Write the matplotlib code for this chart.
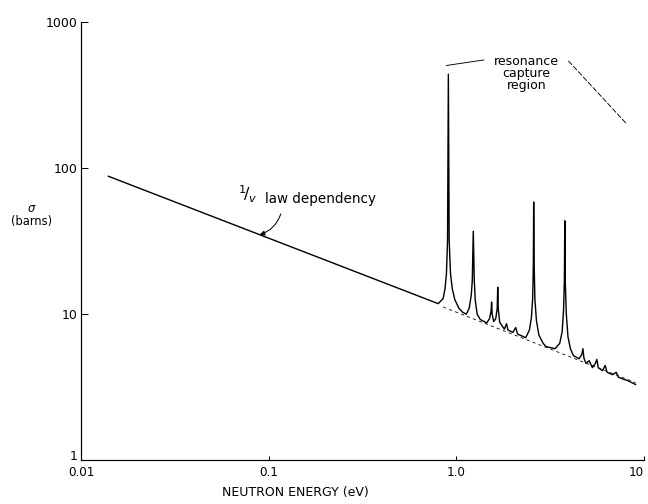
import matplotlib
matplotlib.use("Agg")
import matplotlib.pyplot as plt

# cross section curve (energy in eV, sigma in barns)
energy = [0.014, 0.80, 0.85, 0.87, 0.885, 0.897, 0.906, 0.915, 0.93, 0.95, 0.98, 1.03, 1.08,
          1.13, 1.17, 1.20, 1.215, 1.23, 1.245, 1.26, 1.29, 1.34,
          1.45, 1.5, 1.53, 1.54, 1.55, 1.58, 1.62, 1.65, 1.66, 1.67, 1.70,
          1.80, 1.85, 1.88, 2.0, 2.07, 2.12,
          2.34, 2.45, 2.51, 2.55, 2.57, 2.58, 2.595, 2.62, 2.67, 2.75, 2.9, 3.0,
          3.35, 3.55, 3.66, 3.72, 3.76, 3.78, 3.80, 3.85, 3.93, 4.05, 4.2,
          4.5, 4.66, 4.72, 4.78, 4.9, 5.1, 5.3, 5.5, 5.6, 5.7, 6.0, 6.2, 6.35,
          6.8, 7.1, 7.3, 7.7, 8.2, 9.0]
sigma = [88, 11.8, 12.8, 15, 19, 32, 440, 32, 19, 15, 12.6, 11.0, 10.3,
         10.0, 11.0, 13.5, 17, 37, 17, 12.5, 10.0, 9.2,
         8.7, 9.3, 10.5, 12.1, 10, 8.9, 9.3, 11, 15.3, 11, 8.8,
         7.9, 8.6, 7.8, 7.5, 8.1, 7.3,
         6.9, 7.8, 9.5, 13, 22, 58.6, 22, 12.5, 9.0, 7.2, 6.3, 6.0,
         5.8, 6.3, 7.6, 10.5, 17, 43.6, 17, 10, 7.0, 5.8, 5.2,
         4.95, 5.3, 5.8, 5.0, 4.6, 4.8, 4.3, 4.6, 4.9, 4.3, 4.1, 4.45, 4.0,
         3.85, 4.0, 3.7, 3.6, 3.5, 3.3]

# 1/v baseline continued under the resonances
base_energy = [0.85, 9.0]
base_sigma = [11.2, 3.4]

xticks = [0.01, 0.1, 1.0, 10]
xticklabels = ["0.01", "0.1", "1.0", "10"]
yticks = [1, 10, 100, 1000]
yticklabels = ["1", "10", "100", "1000"]

fig = plt.figure(figsize=(9, 7), dpi=72)
ax = fig.add_axes([0.125, 0.087, 0.869, 0.869])

ax.plot(base_energy, base_sigma, color="black", lw=0.8, ls=(0, (4, 4)))
ax.plot(energy, sigma, color="black", lw=1.4)

ax.set_xscale("log")
ax.set_yscale("log")
ax.set_xlim(0.01, 10)
ax.set_ylim(1, 1000)

ax.spines["top"].set_visible(False)
ax.spines["right"].set_visible(False)
ax.spines["left"].set_linewidth(1.2)
ax.spines["bottom"].set_linewidth(1.2)

ax.set_xticks(xticks)
ax.set_xticklabels(xticklabels)
ax.set_yticks(yticks)
ax.set_yticklabels(yticklabels)
ax.minorticks_off()
ax.tick_params(direction="in", length=7, width=1, labelsize=12)
ax.tick_params(axis="y", labelsize=12.5)
ax.tick_params(axis="x", length=4, pad=6)
ax.get_xticklabels()[-1].set_horizontalalignment("right")
ax.get_yticklabels()[0].set_verticalalignment("baseline")

ax.set_xlabel("NEUTRON ENERGY (eV)", fontsize=12.5)
ax.xaxis.set_label_coords(0.38, -0.06)
ax.text(-0.088, 0.56, "$\\sigma$\n(barns)", transform=ax.transAxes,
        ha="center", va="center", fontsize=11.5, linespacing=1.0)

# annotations
ax.text(0.0774, 66.7, "$^1\\!/_v$", fontsize=16, ha="center", va="center")
ax.text(0.095, 61.5, "law dependency", fontsize=13.5, ha="left", va="center")
ax.annotate("", xy=(0.0895, 35.0), xytext=(0.116, 48.6),
            arrowprops=dict(arrowstyle="-|>", color="black", lw=1,
                            connectionstyle="arc3,rad=-0.25",
                            shrinkA=0, shrinkB=0))

ax.text(2.37, 443, "resonance\ncapture\nregion", fontsize=12.5,
        ha="center", va="center", linespacing=0.9)
ax.plot([0.884, 1.40], [505, 551], color="black", lw=0.9)
ax.plot([3.95, 8.1], [543, 200], color="black", lw=0.9, ls=(0, (6, 2)))

fig.savefig("out.png", dpi=72)
